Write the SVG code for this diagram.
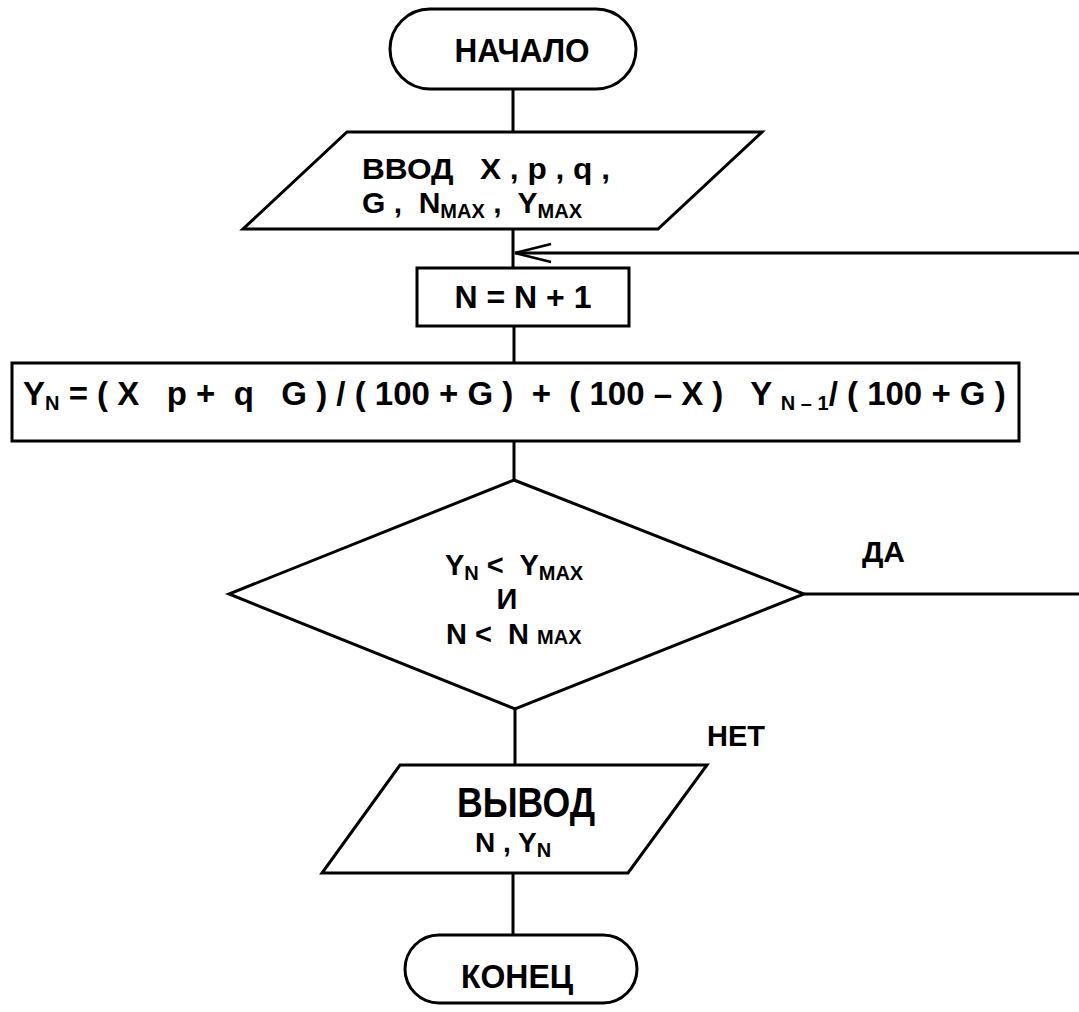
<svg xmlns="http://www.w3.org/2000/svg" width="1079" height="1012" viewBox="0 0 1079 1012">
  <style>
    .shape { fill: #fff; stroke: #000; stroke-width: 3; }
    .wire { fill: none; stroke: #000; stroke-width: 3; }
    text { font-family: "Liberation Sans", Arial, sans-serif; font-weight: bold; fill: #000; }
    .sub { font-size: 20px; }
  </style>
  <defs>
    <marker id="head" viewBox="0 0 40 24" refX="38" refY="12" markerWidth="40" markerHeight="24" markerUnits="userSpaceOnUse" orient="auto">
      <path d="M2,3 L38,12 L2,21" fill="none" stroke="#000" stroke-width="2.5"/>
    </marker>
  </defs>

  <g id="connectors">
    <line class="wire" x1="513" y1="89" x2="513" y2="132"/>
    <line class="wire" x1="513" y1="229" x2="513" y2="268"/>
    <line class="wire" x1="1079" y1="253" x2="515" y2="253" marker-end="url(#head)"/>
    <line class="wire" x1="514" y1="326" x2="514" y2="363"/>
    <line class="wire" x1="514" y1="441" x2="514" y2="480"/>
    <line class="wire" x1="804" y1="594" x2="1079" y2="594"/>
    <line class="wire" x1="515" y1="709" x2="515" y2="765"/>
    <line class="wire" x1="513" y1="873" x2="513" y2="935"/>
  </g>

  <g id="start">
    <rect class="shape" x="390" y="9" width="246" height="80" rx="40"/>
    <text x="522" y="62" font-size="33" text-anchor="middle" textLength="135" lengthAdjust="spacingAndGlyphs">НАЧАЛО</text>
  </g>

  <g id="input">
    <polygon class="shape" points="347,132 762,132 658,229 243,229"/>
    <text x="362" y="179" font-size="30" xml:space="preserve" textLength="248" lengthAdjust="spacingAndGlyphs">ВВОД   X , p , q ,</text>
    <text x="362" y="213" font-size="30" xml:space="preserve">G ,  N<tspan class="sub" font-size="22" dy="5">MAX</tspan><tspan dy="-5"> ,  Y</tspan><tspan class="sub" font-size="22" dy="5">MAX</tspan></text>
  </g>

  <g id="increment">
    <rect class="shape" x="417" y="268" width="212" height="58"/>
    <text x="523" y="308" font-size="32" text-anchor="middle" xml:space="preserve">N = N + 1</text>
  </g>

  <g id="formula">
    <rect class="shape" x="12" y="363" width="1007" height="78"/>
    <text x="23" y="405" font-size="33" xml:space="preserve">Y<tspan class="sub" font-size="22" dy="5">N</tspan><tspan dy="-5"> = ( X   p +  q   G ) / ( 100 + G )  +  ( 100 – X )   Y </tspan><tspan class="sub" dy="5">N – 1</tspan><tspan dy="-5">/ ( 100 + G )</tspan></text>
  </g>

  <g id="condition">
    <polygon class="shape" points="514,480 804,594 515,709 229,594"/>
    <text x="445" y="575" font-size="29" xml:space="preserve">Y<tspan class="sub" font-size="21" dy="5">N</tspan><tspan dy="-5"> &lt;  Y</tspan><tspan class="sub" font-size="21" dy="5">MAX</tspan></text>
    <text x="507" y="609" font-size="29" text-anchor="middle">И</text>
    <text x="446" y="644" font-size="29" xml:space="preserve">N &lt;  N <tspan class="sub" font-size="21">MAX</tspan></text>
  </g>

  <g id="labels">
    <text x="862" y="562" font-size="30">ДА</text>
    <text x="707" y="746" font-size="29">НЕТ</text>
  </g>

  <g id="output">
    <polygon class="shape" points="400,765 707,765 628,873 322,873"/>
    <text x="526" y="817" font-size="42" text-anchor="middle" textLength="138" lengthAdjust="spacingAndGlyphs">ВЫВОД</text>
    <text x="475" y="852" font-size="28" xml:space="preserve">N , Y<tspan class="sub" dy="5">N</tspan></text>
  </g>

  <g id="end">
    <rect class="shape" x="405" y="935" width="232" height="68" rx="34"/>
    <text x="517" y="988" font-size="34" text-anchor="middle" textLength="112" lengthAdjust="spacingAndGlyphs">КОНЕЦ</text>
  </g>
</svg>
